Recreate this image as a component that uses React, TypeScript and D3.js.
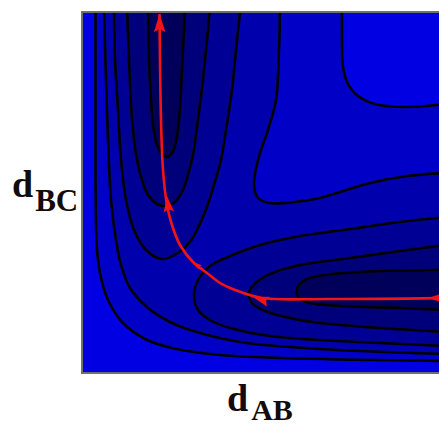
import React from 'react';
import * as d3 from 'd3';

type P = [number, number];

// Axes domains (arbitrary distance units, no ticks in the original)
const dAB_DOMAIN: [number, number] = [0, 7.2];
const dBC_DOMAIN: [number, number] = [0, 7.22];

// Contour lines, [dAB, dBC]
// Level 5 (highest drawn) – outer L-shaped line
const contourV5Left: P[] = [
  [0.27, 7.3], [0.27, 5.06], [0.274, 3.46], [0.3, 2.46], [0.38, 1.9], [0.52, 1.46],
  [0.8, 1.02], [1.26, 0.68], [1.8, 0.5], [2.76, 0.36], [4.36, 0.29], [7.28, 0.24],
];
// Level 5 – plateau boundary (upper right)
const contourV5Plateau: P[] = [
  [5.2, 7.3], [5.2, 6.66], [5.22, 6.12], [5.32, 5.78], [5.52, 5.54], [5.86, 5.38],
  [6.46, 5.32], [7.28, 5.38],
];
// Level 4 – L-shaped line
const contourV4Left: P[] = [
  [0.44, 7.3], [0.48, 5.86], [0.52, 4.66], [0.58, 3.46], [0.68, 2.66], [0.78, 2.16],
  [0.96, 1.7], [1.32, 1.3], [1.76, 1.02], [2.16, 0.86], [3.16, 0.62], [4.76, 0.48], [7.28, 0.38],
];
// Level 4 – upper right line
const contourV4Upper: P[] = [
  [3.96, 7.3], [3.94, 6.46], [3.88, 5.46], [3.72, 4.86], [3.52, 4.26], [3.44, 3.76],
  [3.52, 3.5], [3.76, 3.4], [4.26, 3.42], [4.76, 3.5], [5.76, 3.8], [6.5, 3.94], [7.28, 4.0],
];
// Level 3 – left valley and bottom valley
const contourV3Left: P[] = [
  [0.64, 7.3], [0.66, 6.26], [0.72, 5.26], [0.78, 4.26], [0.88, 3.46], [1.04, 2.86],
  [1.28, 2.46], [1.6, 2.28], [1.92, 2.4], [2.16, 2.62], [2.32, 2.9], [2.5, 3.32],
  [2.64, 3.76], [2.78, 4.26], [2.88, 4.86], [3.0, 5.66], [3.08, 6.46], [3.17, 7.3],
];
const contourV3Bottom: P[] = [
  [7.28, 3.12], [6.36, 3.02], [5.36, 2.88], [4.36, 2.74], [3.56, 2.56], [2.96, 2.34],
  [2.56, 2.14], [2.32, 1.86], [2.24, 1.56], [2.32, 1.26], [2.56, 1.06], [2.96, 0.9],
  [3.76, 0.74], [4.76, 0.66], [5.96, 0.6], [7.28, 0.54],
];
// Level 2
const contourV2Left: P[] = [
  [0.9, 7.3], [0.94, 6.26], [1.0, 5.06], [1.1, 4.26], [1.2, 3.86], [1.32, 3.56],
  [1.5, 3.38], [1.66, 3.34], [1.84, 3.4], [2.0, 3.62], [2.12, 3.96], [2.22, 4.36],
  [2.32, 5.06], [2.42, 5.86], [2.5, 6.66], [2.56, 7.3],
];
const contourV2Bottom: P[] = [
  [7.28, 2.56], [6.36, 2.44], [5.36, 2.3], [4.36, 2.16], [3.86, 2.02], [3.52, 1.84],
  [3.34, 1.62], [3.4, 1.4], [3.66, 1.24], [4.16, 1.1], [4.76, 1.0], [5.96, 0.9], [7.28, 0.82],
];
// Level 1 (lowest) – valley floors
const contourV1Left: P[] = [
  [1.32, 7.3], [1.34, 6.26], [1.38, 5.46], [1.42, 4.96], [1.5, 4.56], [1.6, 4.38],
  [1.7, 4.32], [1.8, 4.4], [1.88, 4.62], [1.94, 5.06], [1.98, 5.66], [2.02, 6.46], [2.06, 7.3],
];
const contourV1Bottom: P[] = [
  [7.28, 2.06], [6.36, 2.05], [5.56, 2.02], [4.86, 1.96], [4.46, 1.86], [4.3, 1.68],
  [4.34, 1.5], [4.56, 1.4], [5.16, 1.34], [6.36, 1.3], [7.28, 1.26],
];

// Fill colours: index 0 = highest energy (brightest), 5 = lowest (darkest)
const levelColors = ['#0000e2', '#0000c6', '#0000ac', '#000094', '#00007a', '#00005a'];

// Minimum energy path (travel order) and arrow tips
const reactionPath: P[] = [
  [7.28, 1.5], [4.96, 1.48], [3.6, 1.5], [3.06, 1.66], [2.76, 1.8], [2.5, 2.0],
  [2.22, 2.22], [1.96, 2.56], [1.8, 2.96], [1.7, 3.36], [1.62, 4.06], [1.58, 5.06],
  [1.56, 6.26], [1.55, 7.18],
];
const arrowTips: P[] = [[6.92, 1.5], [3.42, 1.52], [2.22, 2.22], [1.7, 3.54], [1.55, 7.18]];
const arrowSizes = [14, 16, 9, 16, 18];

const xLabelParts = ['d', 'AB'];
const yLabelParts = ['d', 'BC'];

export default function App() {
  const x = d3.scaleLinear().domain(dAB_DOMAIN).range([82, 442]);
  const y = d3.scaleLinear().domain(dBC_DOMAIN).range([373, 12]);
  const line = d3
    .line<P>()
    .x((d) => x(d[0]))
    .y((d) => y(d[1]))
    .curve(d3.curveCatmullRom.alpha(0.5));

  const cornerX = x(7.6);
  const cornerY = y(7.6);
  const closeCorner = (pts: P[]) => `${line(pts)}L${cornerX},${cornerY}Z`;
  const closeSelf = (pts: P[]) => `${line(pts)}Z`;

  const fills: { d: string; c: string }[] = [
    { d: closeCorner(contourV5Left), c: levelColors[1] },
    { d: closeCorner(contourV4Left), c: levelColors[2] },
    { d: closeCorner(contourV4Upper), c: levelColors[1] },
    { d: closeCorner(contourV5Plateau), c: levelColors[0] },
    { d: closeSelf(contourV3Left), c: levelColors[3] },
    { d: closeSelf(contourV3Bottom), c: levelColors[3] },
    { d: closeSelf(contourV2Left), c: levelColors[4] },
    { d: closeSelf(contourV2Bottom), c: levelColors[4] },
    { d: closeSelf(contourV1Left), c: levelColors[5] },
    { d: closeSelf(contourV1Bottom), c: levelColors[5] },
  ];
  const strokes = [
    contourV5Left, contourV5Plateau, contourV4Left, contourV4Upper, contourV3Left,
    contourV3Bottom, contourV2Left, contourV2Bottom, contourV1Left, contourV1Bottom,
  ];

  const pathPx = reactionPath.map((p) => [x(p[0]), y(p[1])] as P);
  const arrows = arrowTips.map((t, k) => {
    const tp: P = [x(t[0]), y(t[1])];
    let best = 0;
    let bestD = Infinity;
    for (let i = 0; i < pathPx.length - 1; i++) {
      const a = pathPx[i], b = pathPx[i + 1];
      const vx = b[0] - a[0], vy = b[1] - a[1];
      const L2 = vx * vx + vy * vy;
      let s = ((tp[0] - a[0]) * vx + (tp[1] - a[1]) * vy) / L2;
      s = Math.max(0, Math.min(1, s));
      const dx = a[0] + s * vx - tp[0], dy = a[1] + s * vy - tp[1];
      const dd = dx * dx + dy * dy;
      if (dd < bestD) { bestD = dd; best = i; }
    }
    const a = pathPx[best], b = pathPx[best + 1];
    let ux = b[0] - a[0], uy = b[1] - a[1];
    const n = Math.hypot(ux, uy);
    ux /= n; uy /= n;
    const len = arrowSizes[k];
    const hw = len * 0.32;
    const bx = tp[0] - ux * len, by = tp[1] - uy * len;
    const pts = [
      [tp[0], tp[1]],
      [bx - uy * hw, by + ux * hw],
      [bx + ux * len * 0.15, by + uy * len * 0.15],
      [bx + uy * hw, by - ux * hw],
    ];
    return pts.map((p) => p.join(',')).join(' ');
  });

  const font = '"Liberation Serif", "Times New Roman", serif';

  return (
    <svg
      width={439}
      height={425}
      style={{ position: 'absolute', left: 0, top: 0, background: '#fff' }}
    >
      <defs>
        <clipPath id="plotClip">
          <rect x={82} y={12} width={360} height={361} />
        </clipPath>
      </defs>
      <g clipPath="url(#plotClip)">
        <rect x={82} y={12} width={360} height={361} fill={levelColors[0]} />
        {fills.map((f, i) => (
          <path key={i} d={f.d} fill={f.c} stroke="none" />
        ))}
        {strokes.map((s, i) => (
          <path key={i} d={line(s) || ''} fill="none" stroke="#000" strokeWidth={2.6} />
        ))}
        <path d={line(reactionPath) || ''} fill="none" stroke="#f41414" strokeWidth={2.6} />
        {arrows.map((a, i) => (
          <polygon key={i} points={a} fill="#f41414" />
        ))}
      </g>
      <g stroke="#707070" strokeWidth={2}>
        <line x1={82} y1={12} x2={442} y2={12} />
        <line x1={82} y1={11} x2={82} y2={374} />
        <line x1={82} y1={373} x2={442} y2={373} />
      </g>
      <text x={12} y={197} fontFamily={font} fontWeight="bold" fill="#140a0a">
        <tspan fontSize={38}>{yLabelParts[0]}</tspan>
        <tspan fontSize={31} dx={2} dy={14}>{yLabelParts[1]}</tspan>
      </text>
      <text x={227} y={411} fontFamily={font} fontWeight="bold" fill="#140a0a">
        <tspan fontSize={38}>{xLabelParts[0]}</tspan>
        <tspan fontSize={30} dx={3} dy={9}>{xLabelParts[1]}</tspan>
      </text>
    </svg>
  );
}
